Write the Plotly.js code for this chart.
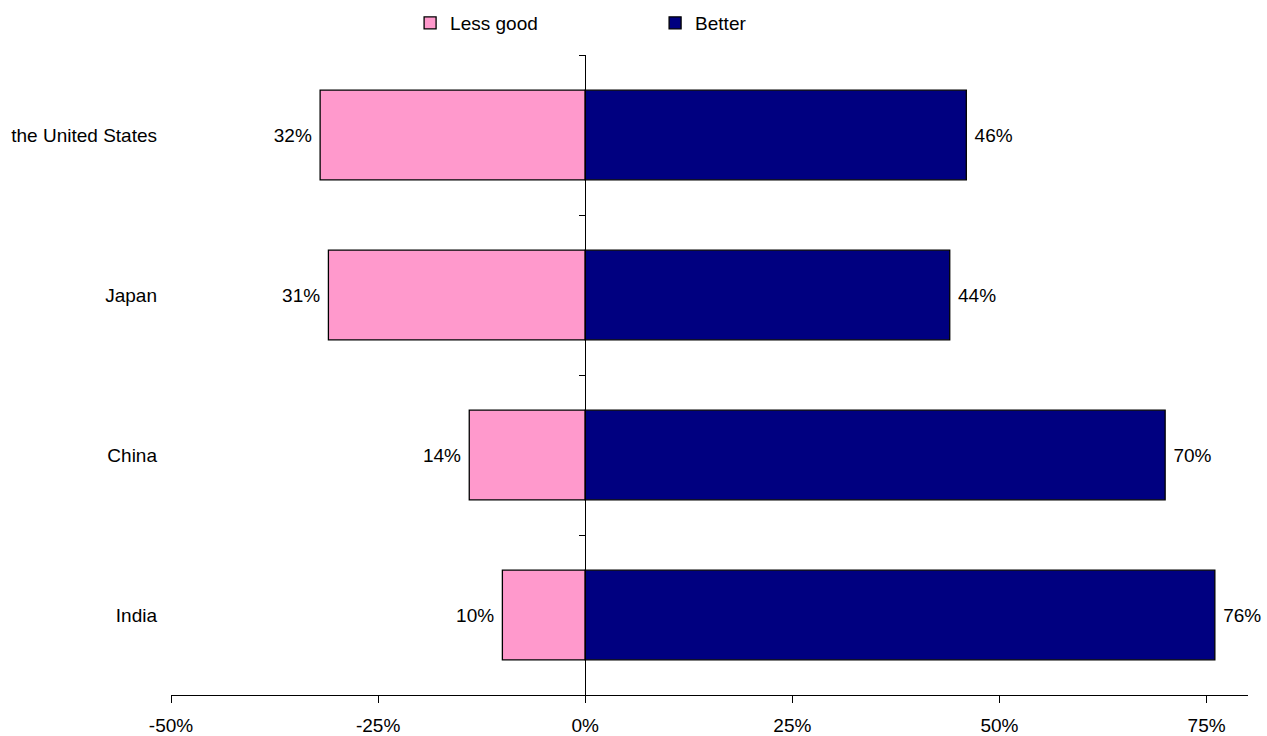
<!DOCTYPE html>
<html>
<head>
<meta charset="utf-8">
<script src="https://cdn.plot.ly/plotly-3.0.1.min.js"></script>
<style>html,body{margin:0;padding:0;background:#fff}#chart{width:1267px;height:736px}</style>
</head>
<body>
<div id="chart"></div>
<script>
var categories = ['the United States', 'Japan', 'China', 'India'];
var lessGood = [32, 31, 14, 10];
var better = [46, 44, 70, 76];
var tickValues = [-50, -25, 0, 25, 50, 75];
var tickLabels = ['-50%', '-25%', '0%', '25%', '50%', '75%'];

var FONT = 'Liberation Sans, Arial, sans-serif';
var FS = 19;
var NB = '\u00a0';

var traces = [
  {
    type: 'bar', orientation: 'h', name: 'Less good',
    y: categories, x: lessGood.map(function (v) { return -v; }),
    text: lessGood.map(function (v) { return v + '%' + NB; }),
    textposition: 'outside', cliponaxis: false, constraintext: 'none',
    textfont: {family: FONT, size: FS, color: '#000'},
    marker: {color: '#FF99CC', line: {color: '#000', width: 1.3}},
    hoverinfo: 'skip'
  },
  {
    type: 'bar', orientation: 'h', name: 'Better',
    y: categories, x: better,
    text: better.map(function (v) { return NB + v + '%'; }),
    textposition: 'outside', cliponaxis: false, constraintext: 'none',
    textfont: {family: FONT, size: FS, color: '#000'},
    marker: {color: '#000080', line: {color: '#000', width: 1.3}},
    hoverinfo: 'skip'
  },
  {
    type: 'bar', orientation: 'h', name: 'axis', showlegend: false,
    y: categories, x: categories.map(function () { return 0; }),
    yaxis: 'y2', opacity: 0, hoverinfo: 'skip'
  }
];

var layout = {
  width: 1267, height: 736,
  margin: {l: 171, r: 19, t: 55, b: 41, autoexpand: false},
  paper_bgcolor: '#fff', plot_bgcolor: '#fff',
  font: {family: FONT, size: FS, color: '#000'},
  barmode: 'overlay', bargap: 0.44,
  showlegend: true,
  legend: {
    orientation: 'h', x: 0.222, xanchor: 'left', y: 1.05, yanchor: 'middle',
    font: {family: FONT, size: FS, color: '#000'},
    entrywidth: 200, entrywidthmode: 'pixels',
    itemwidth: 30, bgcolor: 'rgba(0,0,0,0)'
  },
  xaxis: {
    range: [-50, 80], tickvals: tickValues, ticktext: tickLabels,
    showgrid: false, zeroline: false, showline: true, linecolor: '#000', linewidth: 1,
    ticks: 'outside', ticklen: 7, tickcolor: '#000', tickwidth: 1,
    ticklabelstandoff: 6,
    tickfont: {family: FONT, size: FS, color: '#000'}, fixedrange: true
  },
  yaxis: {
    type: 'category', categoryorder: 'array', categoryarray: categories,
    range: [3.5, -0.5],
    showgrid: false, zeroline: false, showline: false, ticks: '',
    ticklabelstandoff: 13,
    tickfont: {family: FONT, size: FS, color: '#000'}, fixedrange: true
  },
  yaxis2: {
    type: 'category', categoryorder: 'array', categoryarray: categories,
    range: [3.5, -0.5], overlaying: 'y', anchor: 'free', side: 'left',
    position: 414 / 1077,
    showgrid: false, zeroline: false, showline: true, linecolor: '#000', linewidth: 1,
    ticks: 'outside', tickson: 'boundaries', ticklen: 6, tickcolor: '#000',
    showticklabels: false, fixedrange: true
  }
};

Plotly.newPlot('chart', traces, layout, {displayModeBar: false, staticPlot: true});
</script>
</body>
</html>
